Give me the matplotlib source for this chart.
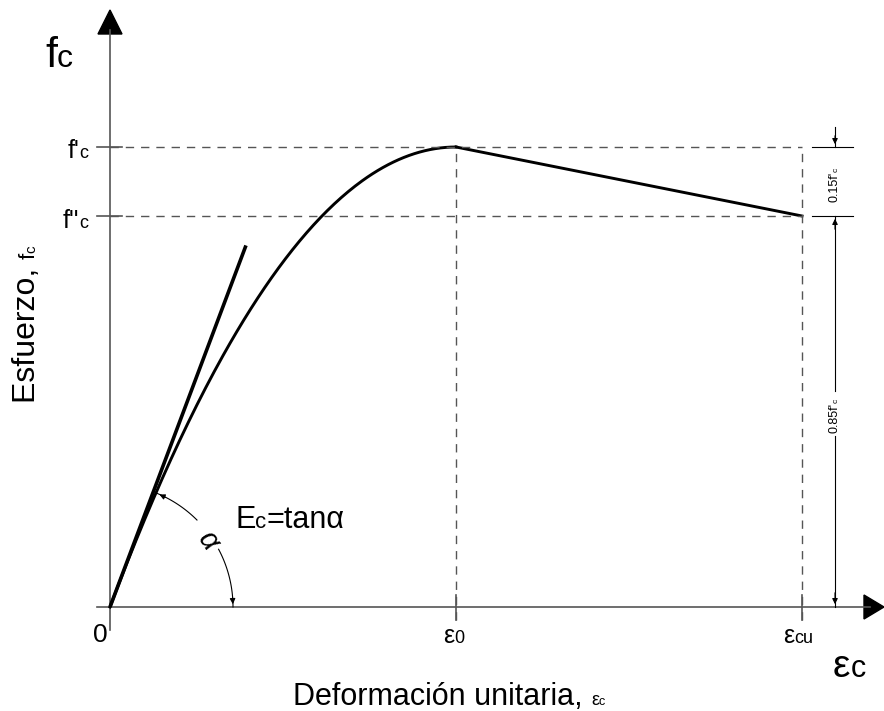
import numpy as np
import matplotlib
matplotlib.use("Agg")
import matplotlib.pyplot as plt

plt.rcParams['font.family'] = ['Liberation Sans', 'DejaVu Sans']

# strain / stress values (f'c = 1)
EPS_0 = 0.002
EPS_CU = 0.004
FC = 1.0
FCC = 0.85
TANGENT_END = 0.000786   # strain where the tangent line stops

W, H = 884, 711
# pixel geometry of the drawing
ORIG_X, ORIG_Y = 110, 607
SX = 346 / EPS_0      # px per unit strain
SY = 460 / FC         # px per unit stress


def px(x, y):
    """pixel -> data"""
    return (x - ORIG_X) / SX, (ORIG_Y - y) / SY


fig = plt.figure(figsize=(W / 100, H / 100), dpi=100)
ax = fig.add_axes([0, 0, 1, 1])
ax.set_xlim(px(0, 0)[0], px(W, 0)[0])
ax.set_ylim(px(0, H)[1], px(0, 0)[1])
ax.axis('off')
rend = fig.canvas.get_renderer()


def rich(x, y, parts, ha='left', rot=0, **kw):
    # parts = [(text, size), ...] all on one baseline, x/y in pixels
    widths = []
    for s, size in parts:
        t = ax.text(0, 0, s, fontsize=size, **kw)
        widths.append(t.get_window_extent(rend).width)
        t.remove()
    total = sum(widths)
    off = {'left': 0, 'center': total / 2, 'right': total}[ha]
    pos = -off
    for (s, size), w in zip(parts, widths):
        if rot == 90:
            xy = px(x, y - pos)
        else:
            xy = px(x + pos, y)
        ax.text(*xy, s, fontsize=size, rotation=rot, rotation_mode='anchor',
                ha='left', va='baseline', **kw)
        pos += w


axcol = '#555555'
# axes
ax.plot([0, 0], [px(0, 630)[1], px(0, 30)[1]], color=axcol, lw=1.2)
ax.plot([px(97, 0)[0], px(870, 0)[0]], [0, 0], color=axcol, lw=1.2)
ax.fill([px(98, 0)[0], px(122, 0)[0], 0],
        [px(0, 34)[1], px(0, 34)[1], px(0, 10)[1]], color='k')
ax.fill([px(864, 0)[0], px(864, 0)[0], px(884, 0)[0]],
        [px(0, 595)[1], px(0, 619)[1], 0], color='k')

# hognestad curve
e = np.linspace(0, EPS_0, 200)
f = FC * (2 * e / EPS_0 - (e / EPS_0) ** 2)
ax.plot(e, f, color='k', lw=2.1)
ax.plot([EPS_0, EPS_CU], [FC, FCC], color='k', lw=2.1)

# tangent
slope = 2 * FC / EPS_0
ax.plot([0, TANGENT_END], [0, slope * TANGENT_END], color='k', lw=2.6,
        solid_capstyle='butt')

# dashed guides
ds = dict(color=axcol, lw=1, dashes=(6, 5))
ax.plot([0, EPS_CU], [FC, FC], **ds)
ax.plot([0, EPS_CU], [FCC, FCC], **ds)
ax.plot([EPS_0, EPS_0], [px(0, 620)[1], FC], **ds)
ax.plot([EPS_CU, EPS_CU], [px(0, 620)[1], FC], **ds)

# ticks on axis
for yv in (FC, FCC):
    ax.plot([px(97, 0)[0], px(122, 0)[0]], [yv, yv], color=axcol, lw=1.2)
for xv in (EPS_0, EPS_CU):
    ax.plot([xv, xv], [px(0, 595)[1], px(0, 620)[1]], color=axcol, lw=1.2)

# labels
rich(45, 67, [('f', 31), ('c', 23)])
rich(88, 158, [("f'", 18), ('c', 13)], ha='right')
rich(88, 228, [("f''", 18), ('c', 13)], ha='right')
rich(100, 642, [('0', 19)], ha='center')
rich(443, 643, [('ε', 18), ('0', 13)])
rich(783, 643, [('ε', 18), ('cu', 13)])
rich(833, 677, [('ε', 28), ('c', 22)])
rich(449, 705, [('Deformación unitaria, ', 22), ('ε', 13), ('c', 9)], ha='center')
rich(35, 403, [('Esfuerzo, ', 23), ('f', 16), ('c', 11)], rot=90)
rich(235, 528, [('E', 22), ('c', 16), ('=tanα', 22)])

# angle arc
r = 123
t0 = np.arctan2(114, 47)
arcs = [np.linspace(t0, np.radians(45), 30), np.linspace(np.radians(28), 0, 30)]
for th in arcs:
    x, y = px(ORIG_X + r * np.cos(th), ORIG_Y - r * np.sin(th))
    ax.plot(x, y, color='k', lw=0.8)
arr = dict(arrowstyle='-|>', color='k', lw=0.8, mutation_scale=8)
for a0, a1 in ((t0 - 0.1, t0), (0.1, 0.0)):
    ax.annotate('', xy=px(ORIG_X + r * np.cos(a1), ORIG_Y - r * np.sin(a1)),
                xytext=px(ORIG_X + r * np.cos(a0), ORIG_Y - r * np.sin(a0)),
                arrowprops=arr)
ax.text(*px(208, 541), 'α', fontsize=21, style='italic', rotation=-55,
        ha='center', va='center')

# dimension line on the right
dx = px(835, 0)[0]
ax.plot([dx, dx], [px(0, 127)[1], FC], color='k', lw=0.8)
ax.plot([dx, dx], [FCC, px(0, 391)[1]], color='k', lw=0.8)
ax.plot([dx, dx], [px(0, 436)[1], 0], color='k', lw=0.8)
for yv in (FC, FCC):
    ax.plot([px(812, 0)[0], px(853, 0)[0]], [yv, yv], color='k', lw=0.8)
ax.annotate('', xy=(dx, FC), xytext=(dx, px(0, 133)[1]), arrowprops=arr)
ax.annotate('', xy=(dx, FCC), xytext=(dx, px(0, 232)[1]), arrowprops=arr)
ax.annotate('', xy=(dx, 0), xytext=(dx, px(0, 590)[1]), arrowprops=arr)
rich(838, 202, [("0.15f'", 9), ('c', 6)], rot=90)
rich(838, 433, [("0.85f'", 9), ('c', 6)], rot=90)

fig.savefig('out.png', dpi=100)
